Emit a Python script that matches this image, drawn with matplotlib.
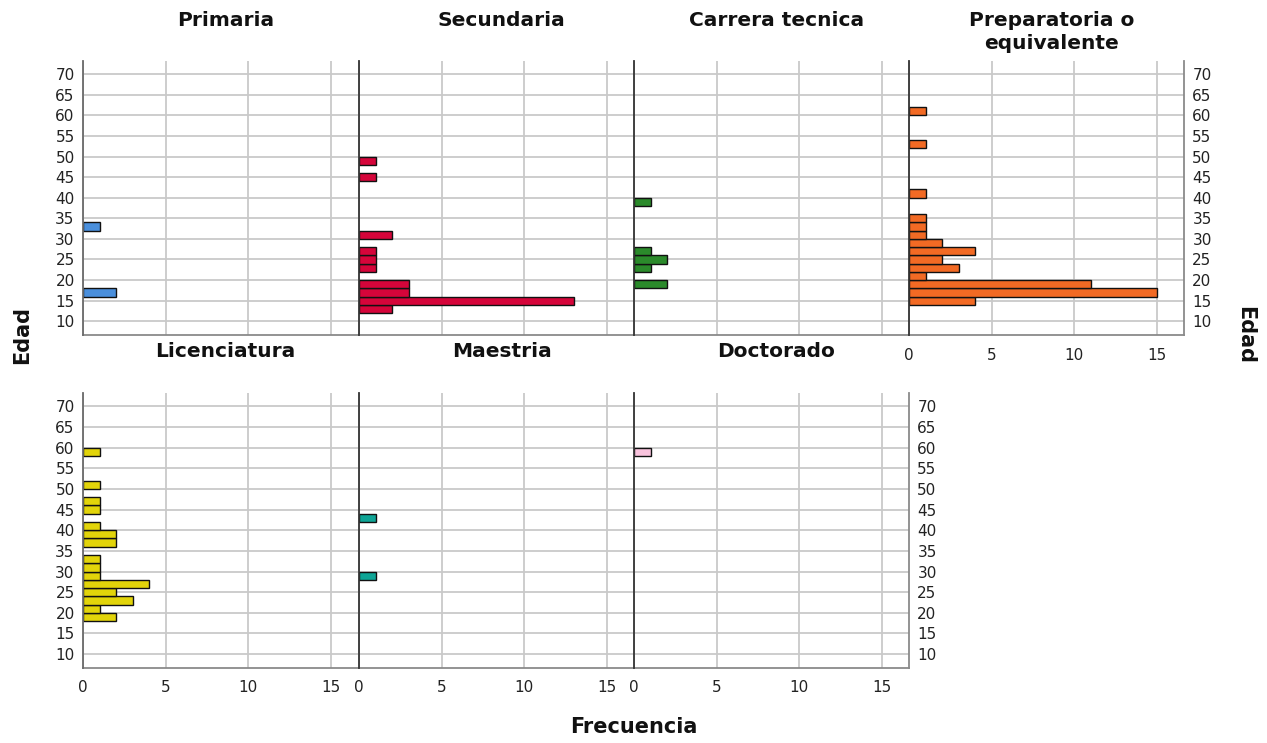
import matplotlib
matplotlib.use("Agg")
import matplotlib.pyplot as plt

plt.rcParams['font.family'] = ['DejaVu Sans']

# Age histograms (bin width 2 years, lower bin edge) by education level
categorias = ["Primaria", "Secundaria", "Carrera tecnica", "Preparatoria o\nequivalente",
              "Licenciatura", "Maestria", "Doctorado"]

primaria_edad = [16, 32]
primaria_freq = [2, 1]

secundaria_edad = [12, 14, 16, 18, 22, 24, 26, 30, 44, 48]
secundaria_freq = [2, 13, 3, 3, 1, 1, 1, 2, 1, 1]

tecnica_edad = [18, 22, 24, 26, 38]
tecnica_freq = [2, 1, 2, 1, 1]

preparatoria_edad = [14, 16, 18, 20, 22, 24, 26, 28, 30, 32, 34, 40, 52, 60]
preparatoria_freq = [4, 15, 11, 1, 3, 2, 4, 2, 1, 1, 1, 1, 1, 1]

licenciatura_edad = [18, 20, 22, 24, 26, 28, 30, 32, 36, 38, 40, 44, 46, 50, 58]
licenciatura_freq = [2, 1, 3, 2, 4, 1, 1, 1, 2, 2, 1, 1, 1, 1, 1]

maestria_edad = [28, 42]
maestria_freq = [1, 1]

doctorado_edad = [58]
doctorado_freq = [1]

colores = ["#4a8fdc", "#d5053a", "#2b8a2b", "#f26a24", "#e2d40a", "#0fa596", "#f9c3dd"]

edades = [primaria_edad, secundaria_edad, tecnica_edad, preparatoria_edad,
          licenciatura_edad, maestria_edad, doctorado_edad]
frecuencias = [primaria_freq, secundaria_freq, tecnica_freq, preparatoria_freq,
               licenciatura_freq, maestria_freq, doctorado_freq]

ancho_bin = 2
y_ticks = list(range(10, 75, 5))
x_ticks = [0, 5, 10, 15]

W, H = 1267, 743
fig = plt.figure(figsize=(W / 100, H / 100), dpi=100)

col_x = [83, 359, 634, 909]
panel_w = 275
row_top = [61, 393]
panel_h = [274, 275]

grid_color = "#c9c9c9"
tick_fs = 11
title_fs = 14.5

for i, (cat, edad, freq, color) in enumerate(zip(categorias, edades, frecuencias, colores)):
    row, col = divmod(i, 4)
    x0 = col_x[col]
    y0 = row_top[row]
    ax = fig.add_axes([x0 / W, 1 - (y0 + panel_h[row]) / H, panel_w / W, panel_h[row] / H])
    ax.set_xlim(0, 16.65)
    ax.set_ylim(6.65, 73.2)
    ax.set_xticks(x_ticks)
    ax.set_yticks(y_ticks)
    ax.grid(True, color=grid_color, linewidth=1.3, zorder=0)
    ax.set_axisbelow(True)
    ax.barh(edad, freq, height=ancho_bin, align="edge", color=color,
            edgecolor="#111111", linewidth=1.0, zorder=3)

    for s in ["top", "right"]:
        ax.spines[s].set_visible(False)
    ax.spines["bottom"].set_color("#8a8a8a")
    ax.spines["bottom"].set_linewidth(1.3)
    ax.spines["left"].set_color("#333333" if col > 0 else "#6a6a6a")
    ax.spines["left"].set_linewidth(1.3)
    ax.spines["left"].set_zorder(4)

    ax.tick_params(axis="both", length=0, labelsize=tick_fs, colors="#222222")
    ax.tick_params(axis="x", pad=9)
    ax.tick_params(axis="y", pad=6)

    # y labels on the outer panels only
    last_in_row = (row == 0 and col == 3) or (row == 1 and col == 2)
    if col == 0:
        ax.yaxis.set_tick_params(labelleft=True, labelright=False)
    elif last_in_row:
        ax.yaxis.set_tick_params(labelleft=False, labelright=True)
        ax.spines["right"].set_visible(True)
        ax.spines["right"].set_color("#8a8a8a")
        ax.spines["right"].set_linewidth(1.3)
    else:
        ax.yaxis.set_tick_params(labelleft=False)

    # x labels where no panel sits below
    if row == 1 or col == 3:
        ax.xaxis.set_tick_params(labelbottom=True)
    else:
        ax.xaxis.set_tick_params(labelbottom=False)

    # panel header, centred about 41 px above the panel
    n_lines = cat.count("\n") + 1
    title_y = y0 - 41 + (n_lines - 1) * 12
    fig.text((x0 + panel_w / 2 + 5) / W, 1 - title_y / H, cat, ha="center", va="center",
             fontsize=title_fs, fontweight="bold", linespacing=1.25, color="#111111")

fig.text(22 / W, 1 - 335 / H, "Edad", rotation=90, ha="center", va="center",
         fontsize=15, fontweight="bold", color="#111111")
fig.text(1245 / W, 1 - 335 / H, "Edad", rotation=270, ha="center", va="center",
         fontsize=15, fontweight="bold", color="#111111")
fig.text(634 / W, 1 - 727 / H, "Frecuencia", ha="center", va="center",
         fontsize=15, fontweight="bold", color="#111111")

fig.savefig("out.png", dpi=100, facecolor="white")
